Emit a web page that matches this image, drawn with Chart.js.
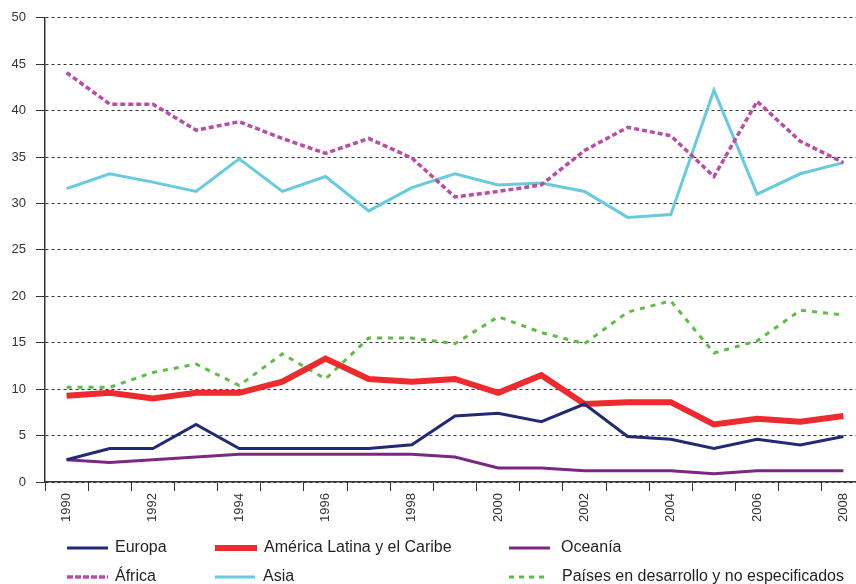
<!DOCTYPE html>
<html>
<head>
<meta charset="utf-8">
<script src="https://cdn.jsdelivr.net/npm/chart.js@4.4.1/dist/chart.umd.min.js"></script>
<style>
  html, body { margin: 0; padding: 0; background: #fff; overflow: hidden; width: 856px; height: 584px; }
  #wrap { position: relative; width: 866px; height: 584px; }
  #legend .item { position: absolute; height: 20px; line-height: 20px; font: 16px "Liberation Sans", Arial, sans-serif; color: #231f20; white-space: nowrap; }
  #legend svg { position: absolute; }
</style>
</head>
<body>
<div id="wrap">
  <canvas id="chart" width="866" height="584"></canvas>
  <div id="legend"></div>
</div>
<script>
const years = ['1990', '1991', '1992', '1993', '1994', '1995', '1996', '1997', '1998', '1999',
               '2000', '2001', '2002', '2003', '2004', '2005', '2006', '2007', '2008'];

const europa   = [2.4, 3.6, 3.6, 6.2, 3.6, 3.6, 3.6, 3.6, 4.0, 7.1, 7.4, 6.5, 8.4, 4.9, 4.6, 3.6, 4.6, 4.0, 4.9];
const americaLatina = [9.3, 9.6, 9.0, 9.6, 9.6, 10.8, 13.3, 11.1, 10.8, 11.1, 9.6, 11.5, 8.4, 8.6, 8.6, 6.2, 6.8, 6.5, 7.1];
const oceania  = [2.4, 2.1, 2.4, 2.7, 3.0, 3.0, 3.0, 3.0, 3.0, 2.7, 1.5, 1.5, 1.2, 1.2, 1.2, 0.9, 1.2, 1.2, 1.2];
const africa   = [44.1, 40.7, 40.7, 37.9, 38.8, 37.0, 35.4, 37.0, 34.9, 30.7, 31.3, 32.0, 35.7, 38.2, 37.3, 32.9, 41.0, 36.7, 34.4];
const asia     = [31.6, 33.2, 32.3, 31.3, 34.8, 31.3, 32.9, 29.2, 31.7, 33.2, 32.0, 32.2, 31.3, 28.5, 28.8, 42.2, 31.0, 33.2, 34.4];
const paises   = [10.2, 10.2, 11.8, 12.7, 10.4, 13.8, 11.1, 15.5, 15.5, 14.9, 17.8, 16.1, 14.9, 18.3, 19.5, 13.9, 15.2, 18.5, 18.0];

const FONT = '"Liberation Sans", Arial, sans-serif';

// series: label, data, color, width, dash
const series = [
  { label: 'Europa', data: europa, color: '#232a75', width: 3, dash: [] },
  { label: 'América Latina y el Caribe', data: americaLatina, color: '#ee2a2e', width: 6, dash: [] },
  { label: 'Oceanía', data: oceania, color: '#7a2883', width: 3, dash: [] },
  { label: 'África', data: africa, color: '#b94ca3', width: 3.5, dash: [5, 3] },
  { label: 'Asia', data: asia, color: '#66cbdc', width: 3, dash: [] },
  { label: 'Países en desarrollo y no especificados', data: paises, color: '#5cbc45', width: 3, dash: [5, 6] }
];

const ctx = document.getElementById('chart').getContext('2d');
new Chart(ctx, {
  type: 'line',
  data: {
    labels: years,
    datasets: series.map(s => ({
      label: s.label,
      data: s.data,
      borderColor: s.color,
      backgroundColor: s.color,
      borderWidth: s.width,
      borderDash: s.dash,
      pointRadius: 0,
      tension: 0,
      fill: false
    }))
  },
  options: {
    responsive: false,
    animation: false,
    layout: { padding: { top: 16, right: 1, left: 0, bottom: 0 } },
    plugins: { legend: { display: false }, tooltip: { enabled: false } },
    scales: {
      x: {
        offset: true,
        grid: { drawOnChartArea: false, offset: true, tickLength: 9, color: '#333', lineWidth: 1 },
        border: { display: true, color: '#333', width: 1.5 },
        ticks: {
          autoSkip: false, minRotation: 90, maxRotation: 90, padding: 2,
          color: '#333', font: { family: FONT, size: 13 },
          callback: (v, i) => (i % 2 === 0 ? years[i] : '')
        },
        afterFit: s => { s.height = 102; }
      },
      y: {
        min: 0, max: 50,
        ticks: { stepSize: 5, padding: 10, color: '#333', font: { family: FONT, size: 13 } },
        grid: { color: '#333', lineWidth: 1, tickLength: 9, tickBorderDash: [] },
        border: { display: true, dash: [3, 3], color: '#333', width: 1.5 },
        afterFit: s => { s.width = 45; }
      }
    }
  }
});

// html legend, 3 columns x 2 rows
const legendPos = [
  { sx: 67, sw: 41, tx: 115, cy: 548 },
  { sx: 215, sw: 42, tx: 264, cy: 548 },
  { sx: 509, sw: 41, tx: 561, cy: 548 },
  { sx: 67, sw: 41, tx: 115, cy: 577 },
  { sx: 215, sw: 40, tx: 263, cy: 577 },
  { sx: 509, sw: 40, tx: 562, cy: 577 }
];
const legend = document.getElementById('legend');
series.forEach((s, i) => {
  const p = legendPos[i];
  const dash = s.label === 'África' ? '6 2' : (s.dash.length ? '5 5' : 'none');
  legend.insertAdjacentHTML('beforeend',
    `<svg width="${p.sw}" height="10" style="left:${p.sx}px;top:${p.cy - 5}px">
       <line x1="0" y1="5" x2="${p.sw}" y2="5" stroke="${s.color}" stroke-width="${s.width}" stroke-dasharray="${dash}"/>
     </svg>
     <div class="item" style="left:${p.tx}px;top:${p.cy - 10}px">${s.label}</div>`);
});
</script>
</body>
</html>
